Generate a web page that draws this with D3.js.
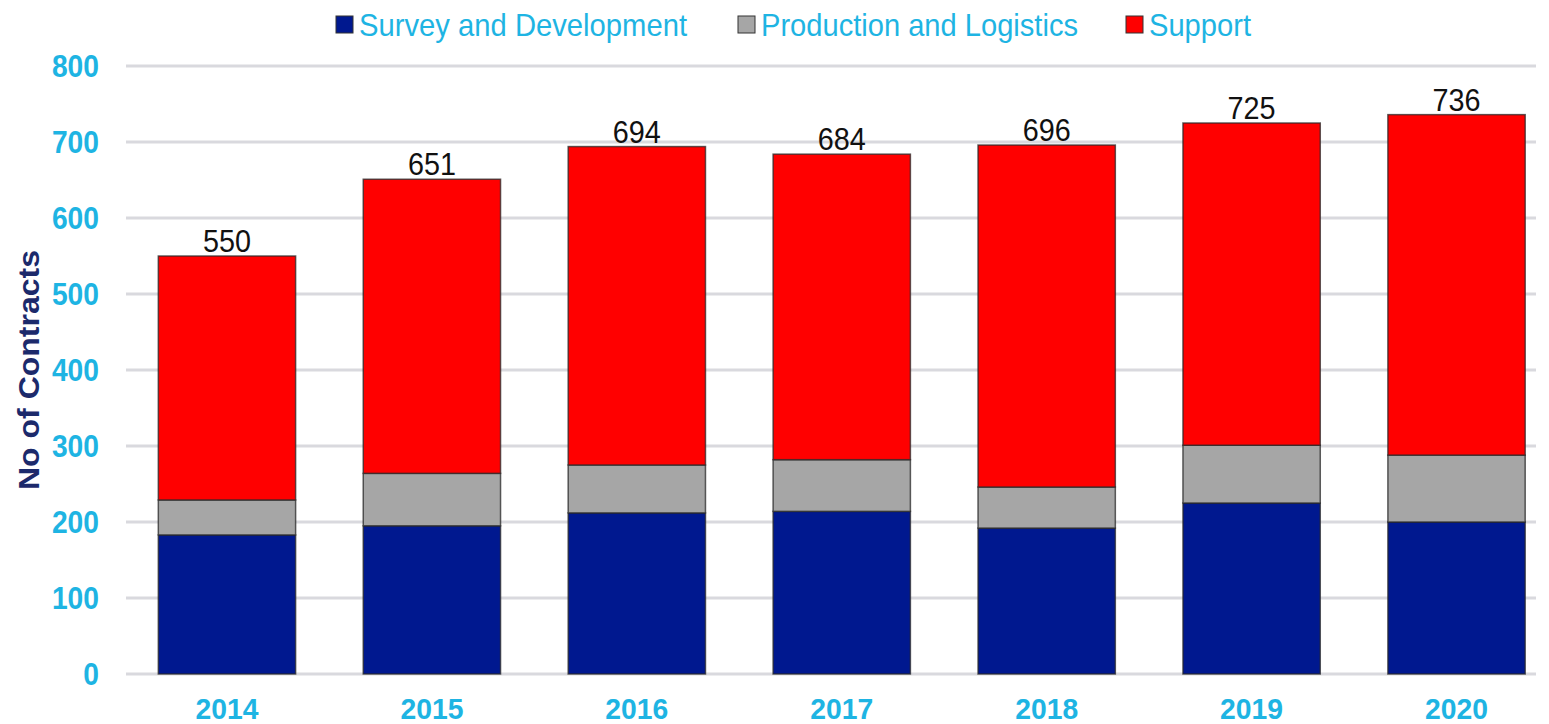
<!DOCTYPE html>
<html>
<head>
<meta charset="utf-8">
<script src="https://cdn.jsdelivr.net/npm/d3@7"></script>
<style>
  body { margin: 0; background: #fff; }
  text { font-family: "Liberation Sans", Arial, sans-serif; }
</style>
</head>
<body>
<div id="graphic"></div>
<script>
var years = ["2014", "2015", "2016", "2017", "2018", "2019", "2020"],
    seriesNames = ["Survey and Development", "Production and Logistics", "Support"],
    surveyDev = [183, 195, 212, 214, 192, 225, 200],
    prodLogistics = [46, 69, 63, 68, 54, 76, 88],
    support = [321, 387, 419, 402, 450, 424, 448],
    yTicks = [0, 100, 200, 300, 400, 500, 600, 700, 800],
    colors = ["#00188f", "#a6a6a6", "#ff0000"];

var width = 1549,
    height = 724,
    margin = { top: 66, right: 13, bottom: 50, left: 126 };

var svg = d3.select("#graphic").append("svg")
    .attr("width", width)
    .attr("height", height);

var x = d3.scaleBand()
    .domain(years)
    .range([124.5, 1559])
    .paddingInner(0.33)
    .paddingOuter(0.165);

var y = d3.scaleLinear()
    .domain([0, 800])
    .range([height - margin.bottom, margin.top]);

// gridlines
svg.append("g")
    .selectAll("line")
    .data(yTicks)
    .enter().append("line")
    .attr("x1", margin.left)
    .attr("x2", width - margin.right)
    .attr("y1", function (d) { return y(d); })
    .attr("y2", function (d) { return y(d); })
    .attr("stroke", "#d9d9de")
    .attr("stroke-width", 3);

// y tick labels (condensed look, like the original)
svg.append("g")
    .selectAll("text")
    .data(yTicks)
    .enter().append("text")
    .attr("x", 99)
    .attr("y", function (d) { return y(d); })
    .attr("dy", "0.36em")
    .attr("text-anchor", "end")
    .attr("fill", "#1eb4e3")
    .attr("font-weight", "bold")
    .attr("font-size", 31)
    .attr("textLength", function (d) { return String(d).length * 15.7; })
    .attr("lengthAdjust", "spacingAndGlyphs")
    .text(function (d) { return d; });

// y title
svg.append("text")
    .attr("transform", "translate(39," + y(400) + ") rotate(-90)")
    .attr("text-anchor", "middle")
    .attr("fill", "#1c2a6b")
    .attr("font-weight", "bold")
    .attr("font-size", 30)
    .attr("textLength", 240)
    .attr("lengthAdjust", "spacingAndGlyphs")
    .text("No of Contracts");

// stacked data
var rows = years.map(function (yr, i) {
    return { year: yr, s0: surveyDev[i], s1: prodLogistics[i], s2: support[i] };
});
var stack = d3.stack().keys(["s0", "s1", "s2"]);
var layers = stack(rows);

svg.append("g")
    .selectAll("g")
    .data(layers)
    .enter().append("g")
    .attr("fill", function (d, i) { return colors[i]; })
    .selectAll("rect")
    .data(function (d) { return d; })
    .enter().append("rect")
    .attr("x", function (d) { return x(d.data.year); })
    .attr("width", x.bandwidth())
    .attr("y", function (d) { return y(d[1]); })
    .attr("height", function (d) { return y(d[0]) - y(d[1]); })
    .attr("stroke", "#2a2a2a")
    .attr("stroke-opacity", 0.75)
    .attr("stroke-width", 1.5);

// total labels
svg.append("g")
    .selectAll("text")
    .data(rows)
    .enter().append("text")
    .attr("x", function (d) { return x(d.year) + x.bandwidth() / 2; })
    .attr("y", function (d) { return y(d.s0 + d.s1 + d.s2) - 4; })
    .attr("text-anchor", "middle")
    .attr("fill", "#111")
    .attr("font-size", 32)
    .attr("textLength", 48)
    .attr("lengthAdjust", "spacingAndGlyphs")
    .text(function (d) { return d.s0 + d.s1 + d.s2; });

// x labels
svg.append("g")
    .selectAll("text")
    .data(years)
    .enter().append("text")
    .attr("x", function (d) { return x(d) + x.bandwidth() / 2; })
    .attr("y", 719)
    .attr("text-anchor", "middle")
    .attr("fill", "#1eb4e3")
    .attr("font-weight", "bold")
    .attr("font-size", 30)
    .attr("textLength", 63)
    .attr("lengthAdjust", "spacingAndGlyphs")
    .text(function (d) { return d; });

// legend
var legendX = [336, 738, 1126],
    legendW = [328, 317, 102];
var legend = svg.append("g")
    .selectAll("g")
    .data(seriesNames)
    .enter().append("g")
    .attr("transform", function (d, i) { return "translate(" + legendX[i] + ",24.5)"; });

legend.append("rect")
    .attr("x", 0)
    .attr("y", -8.5)
    .attr("width", 17)
    .attr("height", 17)
    .attr("fill", function (d, i) { return colors[i]; })
    .attr("stroke", "#333")
    .attr("stroke-width", 1);

legend.append("text")
    .attr("x", 23)
    .attr("y", 11)
    .attr("fill", "#1eb4e3")
    .attr("font-size", 32)
    .attr("textLength", function (d, i) { return legendW[i]; })
    .attr("lengthAdjust", "spacingAndGlyphs")
    .text(function (d) { return d; });
</script>
</body>
</html>
